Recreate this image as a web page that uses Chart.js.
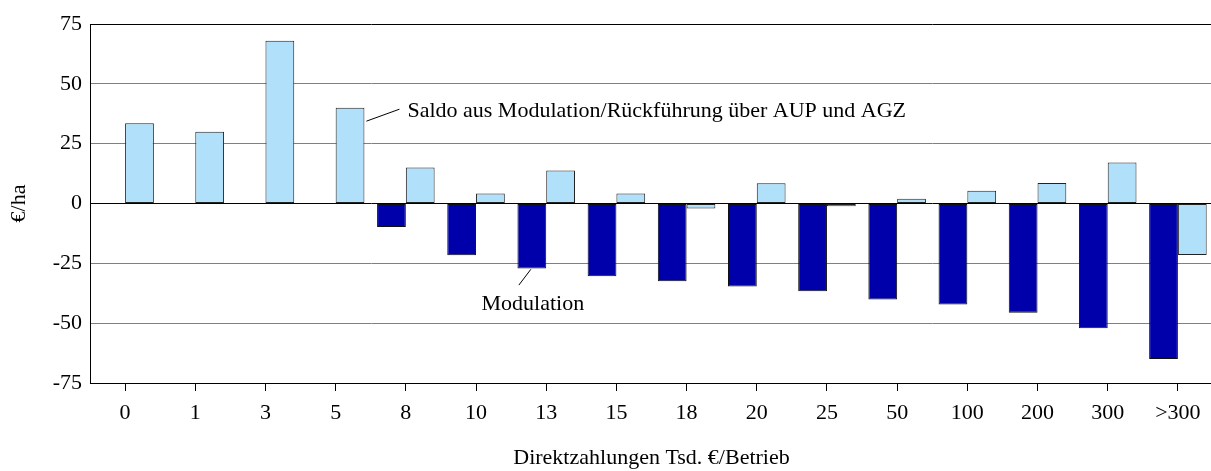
<!DOCTYPE html>
<html>
<head>
<meta charset="utf-8">
<script src="https://cdn.jsdelivr.net/npm/chart.js@4/dist/chart.umd.min.js"></script>
<style>
  html, body { margin: 0; padding: 0; overflow: hidden; background: #fff; }
  #chartContainer { width: 1213px; height: 471px; }
</style>
</head>
<body>
<div id="chartContainer"><canvas id="chart"></canvas></div>
<script>
const categories = ['0', '1', '3', '5', '8', '10', '13', '15', '18', '20', '25', '50', '100', '200', '300', '>300']
const modulation = [null, null, null, null, -9.8, -21.6, -27.2, -30.4, -32.5, -34.7, -36.7, -40.1, -42.2, -45.6, -52.1, -65]
const saldo = [33.5, 30, 68, 40, 15, 4.2, 13.8, 4.2, -2.1, 8.5, -1.2, 2, 5.3, 8.6, 17.1, -21.5]
const yTicks = [-75, -50, -25, 0, 25, 50, 75]

const modulationName = 'Modulation'
const saldoName = 'Saldo aus Modulation/Rückführung über AUP und AGZ'
const xTitle = 'Direktzahlungen Tsd. €/Betrieb'
const yTitle = '€/ha'

const font = { family: '"Liberation Serif", "Times New Roman", serif', size: 22 }
const fontCss = '22px "Liberation Serif", "Times New Roman", serif'

// leader lines and labels placed next to the bars
const labelPlugin = {
    id: 'seriesLabels',
    afterDatasetsDraw(chart) {
        const ctx = chart.ctx
        const y = chart.scales.y
        const mod = chart.getDatasetMeta(0).data
        const sal = chart.getDatasetMeta(1).data
        ctx.save()
        ctx.strokeStyle = '#000'
        ctx.lineWidth = 1
        ctx.fillStyle = '#000'
        ctx.font = fontCss
        ctx.textBaseline = 'middle'

        const b5 = sal[3]
        const x0 = b5.x + b5.width / 2 + 2
        ctx.beginPath()
        ctx.moveTo(x0, y.getPixelForValue(34.4))
        ctx.lineTo(x0 + 33, y.getPixelForValue(39.4))
        ctx.stroke()
        ctx.textAlign = 'left'
        ctx.fillText(saldoName, x0 + 41, y.getPixelForValue(38.6))

        const b13 = mod[6]
        ctx.beginPath()
        ctx.moveTo(b13.x - 1, y.getPixelForValue(-27.5))
        ctx.lineTo(b13.x - 13, y.getPixelForValue(-34.1))
        ctx.stroke()
        ctx.textAlign = 'center'
        ctx.fillText(modulationName, b13.x + 1, y.getPixelForValue(-42.1))
        ctx.restore()
    }
}

const ctx = document.getElementById('chart').getContext('2d')

new Chart(ctx, {
    type: 'bar',
    data: {
        labels: categories,
        datasets: [{
            label: modulationName,
            data: modulation,
            backgroundColor: '#0000AA',
            borderColor: '#111',
            borderWidth: 1,
            borderSkipped: false
        }, {
            label: saldoName,
            data: saldo,
            backgroundColor: '#B0E0FA',
            borderColor: '#222',
            borderWidth: 1,
            borderSkipped: false
        }]
    },
    options: {
        responsive: true,
        maintainAspectRatio: false,
        animation: false,
        categoryPercentage: 0.82,
        barPercentage: 1,
        layout: { padding: { top: 24, right: 0, left: 0, bottom: 0 } },
        plugins: {
            legend: { display: false },
            tooltip: { enabled: false }
        },
        scales: {
            x: {
                grid: { offset: false, drawOnChartArea: false, drawTicks: true, tickLength: 8, color: '#000' },
                border: { display: true, color: '#000' },
                ticks: { color: '#000', font: font, padding: 9, maxRotation: 0, autoSkip: false },
                title: { display: true, text: xTitle, color: '#000', font: font, padding: { top: 0, bottom: 0 } },
                afterFit: s => { s.height = 88 }
            },
            y: {
                min: -75,
                max: 75,
                afterBuildTicks: s => { s.ticks = yTicks.map(v => ({ value: v })) },
                ticks: { color: '#000', font: font, padding: 8 },
                grid: {
                    drawTicks: false,
                    color: c => (c.tick && (c.tick.value === 0 || c.tick.value === 75)) ? '#000' : '#808080',
                    lineWidth: 1
                },
                border: { display: true, color: '#000' },
                title: { display: true, text: yTitle, color: '#000', font: font, padding: { top: 6, bottom: 0 } },
                afterFit: s => { s.width = 90 }
            }
        }
    },
    plugins: [labelPlugin]
})
</script>
</body>
</html>
